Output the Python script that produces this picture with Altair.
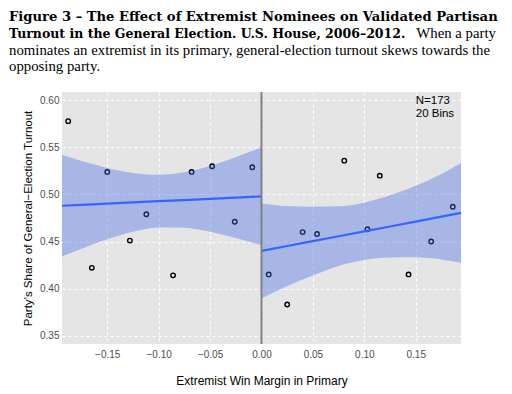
import altair as alt
import pandas as pd

# ---- binned scatter points ----
bin_x = [-0.188, -0.165, -0.150, -0.128, -0.112, -0.086, -0.068, -0.048, -0.026, -0.009,
         0.007, 0.025, 0.040, 0.054, 0.0805, 0.103, 0.115, 0.143, 0.165, 0.186]
bin_y = [0.578, 0.422, 0.524, 0.451, 0.479, 0.414, 0.524, 0.530, 0.471, 0.529,
         0.415, 0.383, 0.460, 0.458, 0.536, 0.463, 0.520, 0.415, 0.450, 0.487]

# ---- fitted lines and confidence bands ----
left_x = [-0.194, -0.175, -0.150, -0.125, -0.100, -0.075, -0.050, -0.025, 0.0]
left_fit = [0.4880, 0.4890, 0.4903, 0.4916, 0.4929, 0.4941, 0.4954, 0.4967, 0.4980]
left_hi = [0.542, 0.5356, 0.5283, 0.5229, 0.5209, 0.5236, 0.5304, 0.5397, 0.550]
left_lo = [0.434, 0.4424, 0.4523, 0.4603, 0.4649, 0.4646, 0.4604, 0.4537, 0.446]

right_x = [0.0, 0.025, 0.050, 0.075, 0.100, 0.125, 0.150, 0.175, 0.194]
right_fit = [0.4400, 0.4452, 0.4504, 0.4556, 0.4608, 0.4660, 0.4712, 0.4764, 0.4804]
right_hi = [0.4905, 0.4877, 0.4870, 0.4874, 0.4913, 0.4991, 0.5092, 0.5219, 0.5334]
right_lo = [0.3895, 0.4027, 0.4138, 0.4240, 0.4303, 0.4329, 0.4332, 0.4309, 0.4274]

cutoff = [0.0]
x_ticks = [-0.15, -0.10, -0.05, 0.00, 0.05, 0.10, 0.15]
y_ticks = [0.35, 0.40, 0.45, 0.50, 0.55, 0.60]

note_x = [0.150]
note_y = [0.5996]
note_text = ["N=173\n20 Bins"]

caption_bold_1 = "Figure 3 \u2013 The Effect of Extremist Nominees on Validated Partisan"
caption_bold_2 = "Turnout in the General Election. U.S. House, 2006\u20132012."
caption_reg_2 = "When a party"
caption_reg_3 = "nominates an extremist in its primary, general-election turnout skews towards the"
caption_reg_4 = "opposing party."

x_title = "Extremist Win Margin in Primary"
y_title = "Party\u2019s Share of General\u2212Election Turnout"

# ---- tables ----
pts = pd.DataFrame({"x": bin_x, "y": bin_y})
fit = pd.DataFrame({
    "x": left_x + right_x,
    "fit": left_fit + right_fit,
    "hi": left_hi + right_hi,
    "lo": left_lo + right_lo,
    "side": ["left"] * len(left_x) + ["right"] * len(right_x),
})
vline = pd.DataFrame({"x": cutoff})
note = pd.DataFrame({"x": note_x, "y": note_y, "t": note_text})

xs = alt.Scale(domain=[-0.194, 0.194], nice=False, zero=False)
ys = alt.Scale(domain=[0.341, 0.609], nice=False, zero=False)

X = alt.X("x:Q", scale=xs, title=x_title,
          axis=alt.Axis(values=x_ticks, format=".2f"))
Y_AX = alt.Axis(values=y_ticks, format=".2f")

points = alt.Chart(pts).mark_point(
    shape="circle", filled=False, color="black", strokeWidth=1.4, size=20, opacity=1
).encode(x=X, y=alt.Y("y:Q", scale=ys, title=y_title, axis=Y_AX))

band = alt.Chart(fit).mark_area(
    color="#4169E1", opacity=0.38, interpolate="monotone"
).encode(x="x:Q", y="lo:Q", y2="hi:Q", detail="side:N")

line = alt.Chart(fit).mark_line(
    color="#3366FF", strokeWidth=2.2
).encode(x="x:Q", y="fit:Q", detail="side:N")

rule = alt.Chart(vline).mark_rule(color="#7F7F7F", strokeWidth=2).encode(x="x:Q")

label = alt.Chart(note).mark_text(
    align="left", baseline="middle", font="Liberation Sans", fontSize=11.5,
    color="black", lineBreak="\n", lineHeight=13.5
).encode(x="x:Q", y="y:Q", text="t:N")


def cap(txt, px, py, bold, size, align="left"):
    return alt.Chart(pd.DataFrame({"t": [txt]})).mark_text(
        align=align, baseline="alphabetic",
        font="DejaVu Serif" if bold else "Liberation Serif",
        fontWeight="bold" if bold else "normal",
        fontSize=size, color="black"
    ).encode(x=alt.value(px), y=alt.value(py), text="t:N")


captions = [
    cap(caption_bold_1, -53, -71, True, 13.15),
    cap(caption_bold_2, -53, -54.3, True, 12.5),
    cap(caption_reg_2, 434, -54.3, False, 14.8, align="right"),
    cap(caption_reg_3, -53, -37.5, False, 14.8),
    cap(caption_reg_4, -53, -20.8, False, 14.8),
]

chart = alt.layer(points, band, line, rule, label, *captions).properties(
    width=399, height=252,
    padding={"left": 54, "top": 84, "right": 40, "bottom": 50},
    autosize=alt.AutoSizeParams(type="none"),
    background="white",
).configure_view(
    fill="#E5E5E5", stroke=None
).configure_axis(
    grid=True, gridColor="white", gridDash=[3, 3], gridWidth=1,
    domain=False, ticks=False,
    labelColor="#4D4D4D", labelFont="Liberation Sans", labelFontSize=10,
    titleColor="black", titleFont="Liberation Sans", titleFontSize=12,
    titleFontWeight="normal",
).configure_axisX(
    labelPadding=5, titlePadding=16
).configure_axisY(
    labelPadding=3, titlePadding=6, titleFontSize=11.5
)

chart.save("out.html", embed_options={"renderer": "svg", "actions": False})
